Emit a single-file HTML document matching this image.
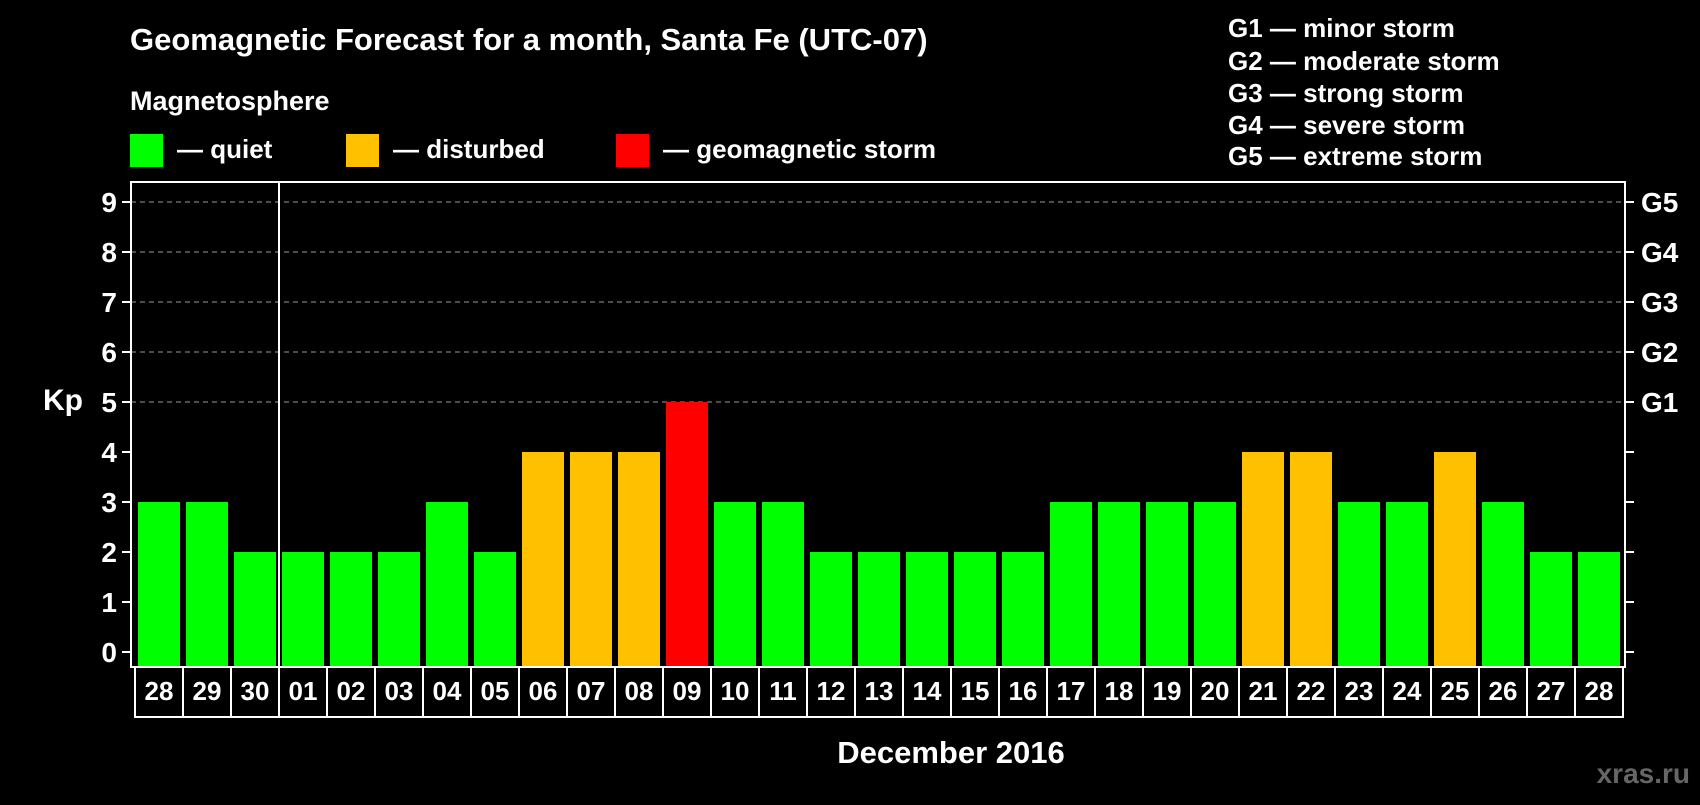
<!DOCTYPE html>
<html><head><meta charset="utf-8"><style>
body{margin:0;background:#000;width:1700px;height:800px;overflow:hidden}
svg text{font-family:"Liberation Sans",sans-serif;font-weight:bold;fill:#fff}
</style></head><body>
<svg id="c" width="1700" height="800" xmlns="http://www.w3.org/2000/svg">
<text x="130" y="50" font-size="31">Geomagnetic Forecast for a month, Santa Fe (UTC-07)</text>
<text x="130" y="110" font-size="27">Magnetosphere</text>
<rect x="130" y="134" width="33" height="33" fill="#00ff00"/>
<text x="177" y="158" font-size="26">— quiet</text>
<rect x="346" y="134" width="33" height="33" fill="#ffc000"/>
<text x="393" y="158" font-size="26">— disturbed</text>
<rect x="616" y="134" width="33" height="33" fill="#ff0000"/>
<text x="663" y="158" font-size="26">— geomagnetic storm</text>
<g font-size="26">
<text x="1228" y="37">G1 — minor storm</text>
<text x="1228" y="70">G2 — moderate storm</text>
<text x="1228" y="102">G3 — strong storm</text>
<text x="1228" y="134">G4 — severe storm</text>
<text x="1228" y="165">G5 — extreme storm</text>
</g>
<text x="43" y="410" font-size="30">Kp</text>
<text x="951" y="763" font-size="31" text-anchor="middle">December 2016</text>
<text x="1690" y="783" font-size="28" text-anchor="end" style="fill:#666">xras.ru</text>
<g id="grid"></g><g id="bars"></g><g id="labels"></g>
<rect x="131" y="182" width="1494" height="485" fill="none" stroke="#fff" stroke-width="2"/>
<line x1="279" y1="182" x2="279" y2="717" stroke="#fff" stroke-width="2"/>
</svg>
<script>
const days=["28","29","30","01","02","03","04","05","06","07","08","09","10","11","12","13","14","15","16","17","18","19","20","21","22","23","24","25","26","27","28"];
const kp=[3,3,2,2,2,2,3,2,4,4,4,5,3,3,2,2,2,2,2,3,3,3,3,4,4,3,3,4,3,2,2];
const yTicks=[0,1,2,3,4,5,6,7,8,9];
const gLabels=["","","","","","G1","G2","G3","G4","G5"];
const NS="http://www.w3.org/2000/svg";
const y=v=>652-50*v;
const x=i=>138+48*i;
function mk(t,a,p){const e=document.createElementNS(NS,t);for(const k in a)e.setAttribute(k,a[k]);p.appendChild(e);return e;}
const grid=document.getElementById('grid'),bars=document.getElementById('bars'),labels=document.getElementById('labels');
yTicks.forEach((v,i)=>{
  if(v>=5){const l=mk('line',{x1:131,x2:1625,y1:y(v),y2:y(v),stroke:'#999','stroke-dasharray':'5,4'},grid);
  
  }
  mk('line',{x1:122,x2:131,y1:y(v),y2:y(v),stroke:'#fff','stroke-width':2},grid);
  mk('line',{x1:1625,x2:1634,y1:y(v),y2:y(v),stroke:'#fff','stroke-width':2},grid);
  const t=mk('text',{x:117,y:y(v)+10,'font-size':28,'text-anchor':'end'},grid);t.textContent=v;
  
  
  if(gLabels[i]){const g=mk('text',{x:1641,y:y(v)+10,'font-size':28},grid);g.textContent=gLabels[i];
  
  }
});
kp.forEach((v,i)=>{
  const c=v>=5?'#ff0000':(v>=4?'#ffc000':'#00ff00');
  const r=mk('rect',{x:x(i),y:y(v),width:42,height:667-y(v),fill:c},bars);
  
  
  const b=mk('rect',{x:135+48*i,y:667,width:48,height:50,fill:'none',stroke:'#fff','stroke-width':2},labels);
  
  
  const t=mk('text',{x:159+48*i,y:700,'font-size':26,'text-anchor':'middle'},labels);t.textContent=days[i];
  
  
});
</script>
</body></html>
